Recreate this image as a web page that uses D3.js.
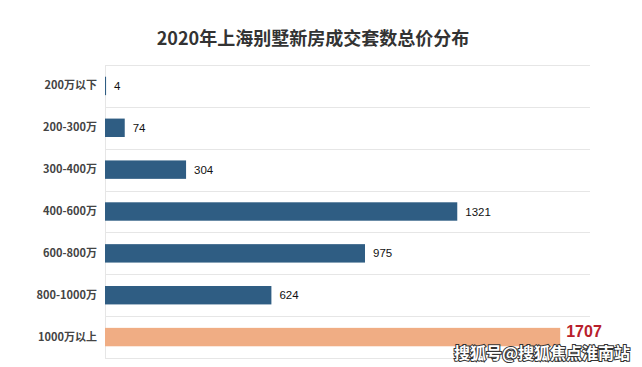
<!DOCTYPE html>
<html>
<head>
<meta charset="utf-8">
<script src="https://cdn.jsdelivr.net/npm/d3@7"></script>
<style>
  html, body { margin: 0; padding: 0; background: #fff; }
  svg { display: block; }
</style>
</head>
<body>
<svg id="chart" width="642" height="367"></svg>
<script>
const title = "2020年上海别墅新房成交套数总价分布";
const categories = ["200万以下", "200-300万", "300-400万", "400-600万", "600-800万", "800-1000万", "1000万以上"];
const values = [4, 74, 304, 1321, 975, 624, 1707];
const highlight = "1000万以上";
const watermark = "搜狐号@搜狐焦点淮南站";

const svg = d3.select("#chart");
const W = 642, H = 367;
const margin = { left: 105, right: 57, top: 65, bottom: 9 };

const x = d3.scaleLinear().domain([0, 1800]).range([margin.left, W - margin.right]);
const y = d3.scaleBand().domain(categories).range([margin.top, H - margin.bottom]).paddingInner(0.56).paddingOuter(0.28);

const step = y.step();
const gridEnd = 590;

// title
svg.append("text")
  .attr("x", 313).attr("y", 45)
  .attr("text-anchor", "middle")
  .attr("font-family", "'Noto Sans CJK SC', 'Noto Sans', sans-serif")
  .attr("font-weight", "bold")
  .attr("font-size", 18)
  .attr("fill", "#333")
  .text(title);

// horizontal gridlines at band boundaries
const bounds = categories.map(c => y(c) - y.paddingOuter() * step);
bounds.push(bounds[bounds.length - 1] + step);
svg.append("g").selectAll("line").data(bounds).join("line")
  .attr("x1", margin.left).attr("x2", gridEnd)
  .attr("y1", d => Math.round(d) + 0.5).attr("y2", d => Math.round(d) + 0.5)
  .attr("stroke", "#e6e6e6").attr("stroke-width", 1);

// left axis line
svg.append("line")
  .attr("x1", margin.left + 0.5).attr("x2", margin.left + 0.5)
  .attr("y1", Math.round(bounds[0])).attr("y2", Math.round(bounds[bounds.length - 1]))
  .attr("stroke", "#e6e6e6");

// category labels
const yAxis = d3.axisLeft(y).tickSize(0).tickPadding(8);
const ag = svg.append("g").attr("transform", `translate(${margin.left},0)`).call(yAxis);
ag.select(".domain").remove();
ag.selectAll("text")
  .attr("font-family", "'Noto Sans CJK SC', 'Noto Sans', sans-serif")
  .attr("font-weight", "bold")
  .attr("font-size", 11)
  .attr("fill", "#444");

// bars
svg.append("g").selectAll("rect").data(categories).join("rect")
  .attr("x", x(0))
  .attr("y", d => y(d))
  .attr("width", (d, i) => x(values[i]) - x(0))
  .attr("height", y.bandwidth())
  .attr("fill", d => d === highlight ? "#f0ad84" : "#2f5d83");

// value labels
svg.append("g").selectAll("text").data(categories).join("text")
  .attr("x", (d, i) => x(values[i]) + (d === highlight ? 6 : 8))
  .attr("y", d => y(d) + y.bandwidth() / 2)
  .attr("dy", d => d === highlight ? "-0.02em" : "0.35em")
  .attr("font-family", "'Liberation Sans', Arial, sans-serif")
  .attr("font-size", d => d === highlight ? 16 : 11.5)
  .attr("font-weight", d => d === highlight ? "bold" : "normal")
  .attr("fill", d => d === highlight ? "#b8202b" : "#111")
  .text((d, i) => values[i]);

// watermark
svg.append("text")
  .attr("x", 630).attr("y", 359)
  .attr("text-anchor", "end")
  .attr("font-family", "'Noto Sans CJK SC', sans-serif")
  .attr("font-size", 16)
  .attr("font-weight", "bold")
  .attr("fill", "#fff")
  .attr("stroke", "#333")
  .attr("stroke-width", 2)
  .attr("paint-order", "stroke")
  .text(watermark);
</script>
</body>
</html>
